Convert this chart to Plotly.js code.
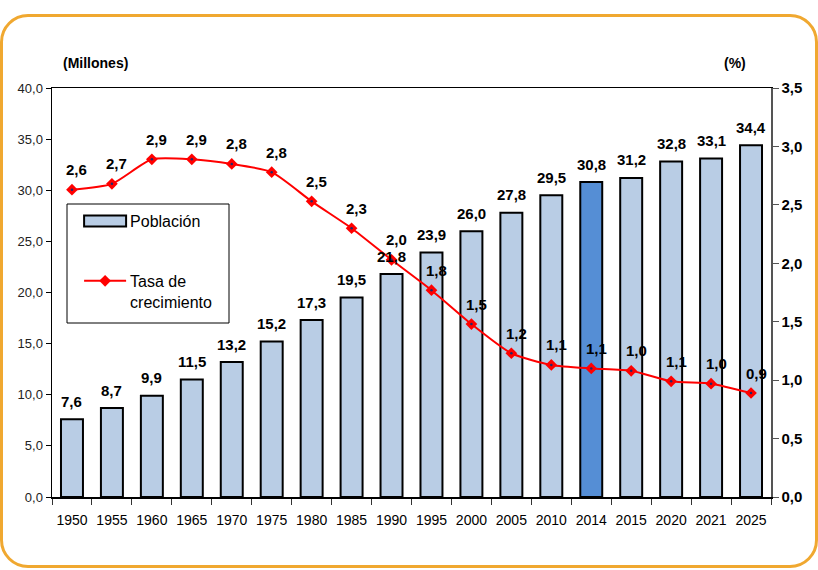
<!DOCTYPE html>
<html>
<head>
<meta charset="utf-8">
<script src="https://cdn.plot.ly/plotly-3.0.1.min.js"></script>
<style>
  html, body { margin:0; padding:0; background:#fff; width:818px; height:570px; overflow:hidden; }
  #frame { position:absolute; left:0px; top:14px; width:812px; height:548px; border:3px solid #F0A830; border-radius:28px; }
  #chart { position:absolute; left:0; top:0; width:818px; height:570px; }
</style>
</head>
<body>
<div id="frame"></div>
<div id="chart"></div>
<script>
const years = ["1950","1955","1960","1965","1970","1975","1980","1985","1990","1995","2000","2005","2010","2014","2015","2020","2021","2025"];
const population = [7.6, 8.7, 9.9, 11.5, 13.2, 15.2, 17.3, 19.5, 21.8, 23.9, 26.0, 27.8, 29.5, 30.8, 31.2, 32.8, 33.1, 34.4];
const populationLabels = ["7,6","8,7","9,9","11,5","13,2","15,2","17,3","19,5","21,8","23,9","26,0","27,8","29,5","30,8","31,2","32,8","33,1","34,4"];
const growthRate = [2.63, 2.68, 2.89, 2.89, 2.85, 2.78, 2.53, 2.30, 2.03, 1.77, 1.48, 1.23, 1.13, 1.10, 1.08, 0.99, 0.97, 0.89];
const growthLabels = ["2,6","2,7","2,9","2,9","2,8","2,8","2,5","2,3","2,0","1,8","1,5","1,2","1,1","1,1","1,0","1,1","1,0","0,9"];
const highlightYear = "2014";

const FONT = "'Liberation Sans', Arial, sans-serif";
const pos = years.map((_, i) => i);
const boundaries = years.concat([""]).map((_, i) => i - 0.5);
const barColors = years.map(y => y === highlightYear ? "#558ED5" : "#B9CDE5");

const barTrace = {
  type: "bar", x: pos, y: population, name: "Población",
  marker: { color: barColors, line: { color: "#000", width: 2 } },
  legendgroup: "a"
};
const lineTrace = {
  type: "scatter", mode: "lines+markers", x: pos, y: growthRate, yaxis: "y2",
  name: "Tasa de<br>crecimiento",
  line: { color: "#FF0000", width: 2, shape: "spline", smoothing: 0.6 },
  marker: { symbol: "diamond", size: 9, color: "#FF0000" },
  legendgroup: "b"
};
const dotTrace = {
  type: "scatter", mode: "markers", x: pos, y: growthRate, yaxis: "y2",
  marker: { symbol: "circle", size: 2.5, color: "#1F2A6B" }, showlegend: false, hoverinfo: "skip"
};

const labelFont = { family: FONT, size: 15, color: "#000" };
const annotations = [];
pos.forEach(i => annotations.push({
  x: i, y: population[i], xref: "x", yref: "y", text: "<b>" + populationLabels[i] + "</b>",
  showarrow: false, yanchor: "middle", yshift: 18, font: labelFont
}));
pos.forEach(i => annotations.push({
  x: i, y: growthRate[i], xref: "x", yref: "y2", text: "<b>" + growthLabels[i] + "</b>",
  showarrow: false, yanchor: "middle", yshift: 20, xshift: 5, font: labelFont
}));
annotations.push({ xref: "paper", yref: "paper", x: 0.013, y: 1.062, xanchor: "left", yanchor: "middle",
  text: "<b>(Millones)</b>", showarrow: false, font: { family: FONT, size: 14, color: "#000" } });
annotations.push({ xref: "paper", yref: "paper", x: 0.968, y: 1.062, xanchor: "right", yanchor: "middle",
  text: "<b>(%)</b>", showarrow: false, font: { family: FONT, size: 14, color: "#000" } });

const layout = {
  width: 818, height: 570,
  margin: { l: 52, r: 47, t: 88, b: 73 },
  paper_bgcolor: "rgba(0,0,0,0)", plot_bgcolor: "rgba(0,0,0,0)",
  separators: ",.",
  bargap: 0.45,
  showlegend: true,
  legend: {
    x: 0.021, y: 0.716, xanchor: "left", yanchor: "top",
    borderwidth: 0, bgcolor: "rgba(0,0,0,0)", valign: "top",
    font: { family: FONT, size: 16, color: "#000" },
    traceorder: "grouped", tracegroupgap: 36, itemwidth: 53
  },
  shapes: [{
    type: "rect", xref: "paper", yref: "paper", layer: "below",
    x0: (67 - 52) / 719, x1: (229 - 52) / 719, y0: (497 - 323) / 409, y1: (497 - 204) / 409,
    line: { color: "#000", width: 1 }, fillcolor: "#fff"
  }],
  xaxis: {
    type: "linear", range: [-0.5, years.length - 0.5],
    tickvals: pos, ticktext: years, ticks: "", tickangle: 0, ticklabelstandoff: 10,
    minor: { tickvals: boundaries, ticks: "outside", ticklen: 6, tickcolor: "#333", showgrid: false },
    showline: true, linecolor: "#000", linewidth: 1.5, mirror: true,
    tickfont: { family: FONT, size: 14, color: "#000" }, showgrid: false, zeroline: false
  },
  yaxis: {
    range: [0, 40], dtick: 5, tickformat: ".1f", showgrid: false, zeroline: false,
    showline: true, linecolor: "#000", linewidth: 1.5, ticks: "outside", ticklen: 5, tickcolor: "#000",
    tickfont: { family: FONT, size: 13, color: "#222" }
  },
  yaxis2: {
    overlaying: "y", side: "right", range: [0, 3.5], dtick: 0.5, tickformat: ".1f",
    showgrid: false, zeroline: false, showline: true, linecolor: "#555", linewidth: 1.5,
    ticks: "outside", ticklen: 6, tickcolor: "#555",
    tickfont: { family: FONT, size: 15, color: "#000", weight: "bold" }
  },
  annotations: annotations
};

Plotly.newPlot("chart", [barTrace, lineTrace, dotTrace], layout, { displayModeBar: false, staticPlot: true }).then(gd => {
  // widen legend symbols to match the reference style
  gd.querySelectorAll(".legend .traces").forEach(g => {
    if (g.textContent.indexOf("Población") !== -1) {
      g.querySelectorAll(".legendpoints path").forEach(p => {
        p.setAttribute("d", "M-21,-5.5H21V5.5H-21Z");
        p.setAttribute("transform", "translate(38,0)");
      });
    } else {
      g.querySelectorAll(".legendlines path").forEach(p => p.setAttribute("d", "M17,0h42"));
      g.querySelectorAll(".legendsymbols path").forEach(p => p.setAttribute("transform", "translate(38,0)"));
    }
  });
});
</script>
</body>
</html>
